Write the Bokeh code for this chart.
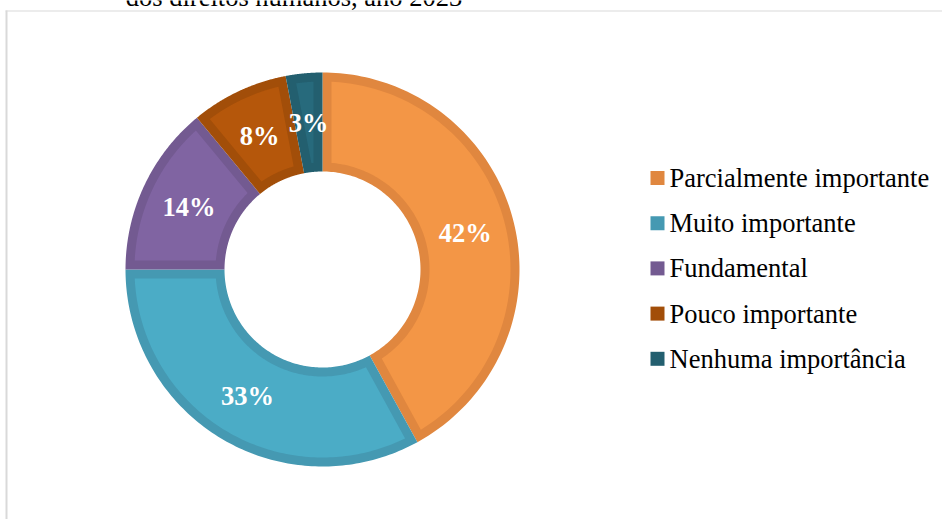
import numpy as np
from bokeh.plotting import figure
from bokeh.models import Range1d
from bokeh.core.properties import value
from bokeh.embed import file_html
from bokeh.resources import INLINE

# ---- data ----
categories = ["Parcialmente importante", "Muito importante", "Fundamental",
              "Pouco importante", "Nenhuma importância"]
values = [42, 33, 14, 8, 3]
labels = ["42%", "33%", "14%", "8%", "3%"]
fill_colors = ["#F39646", "#4BACC6", "#8064A2", "#B5570B", "#276A7C"]
edge_colors = ["#E0873F", "#4599B2", "#735A91", "#A24E09", "#235F6F"]
title_text = "dos direitos humanos, ano 2023"

# ---- layout (pixels) ----
W, H = 942, 519
cx, cy = 322, 269
r_out, r_in = 197, 98
edge = 9
FONT = "Liberation Serif"
FS = "26.5px"

p = figure(width=W, height=H, x_range=Range1d(0, W), y_range=Range1d(H, 0),
           output_backend="svg", toolbar_location=None, min_border=0,
           x_axis_location=None, y_axis_location=None)
p.grid.visible = False
p.outline_line_color = None
p.background_fill_color = "white"
p.border_fill_color = "white"
p.styles = {"position": "absolute", "top": "0px", "left": "0px"}


def sector(t1, t2, r1, r2, inset=0.0, n=120):
    """t1 > t2 (degrees), clockwise from t1 to t2."""
    ra, rb = r1 + inset, r2 - inset
    a_out = np.degrees(np.arcsin(inset / rb)) if inset else 0.0
    a_in = np.degrees(np.arcsin(inset / ra)) if inset else 0.0
    to = np.radians(np.linspace(t1 - a_out, t2 + a_out, n))
    ti = np.radians(np.linspace(t2 + a_in, t1 - a_in, n))
    xs = np.concatenate([cx + rb * np.cos(to), cx + ra * np.cos(ti)])
    ys = np.concatenate([cy - rb * np.sin(to), cy - ra * np.sin(ti)])
    return list(xs), list(ys)


total = float(sum(values))
starts, ends = [], []
a = 90.0
for v in values:
    starts.append(a)
    a = a - v / total * 360.0
    ends.append(a)

oxs, oys, ixs, iys = [], [], [], []
for t1, t2 in zip(starts, ends):
    x, y = sector(t1, t2, r_in, r_out)
    oxs.append(x); oys.append(y)
    x, y = sector(t1, t2, r_in, r_out, inset=edge)
    ixs.append(x); iys.append(y)

p.patches(oxs, oys, fill_color=edge_colors, line_color=None)
p.patches(ixs, iys, fill_color=fill_colors, line_color=None)

# labels
mids = np.radians([(s + e) / 2 for s, e in zip(starts, ends)])
rm = (r_in + r_out) / 2
lx = cx + rm * np.cos(mids)
ly = cy - rm * np.sin(mids)
p.text(x=list(lx), y=list(ly), text=labels, text_color="white",
       text_font=value(FONT), text_font_style="bold", text_font_size=FS,
       text_align="center", text_baseline="middle")

# legend
leg_y = [177.5 + i * 45.2 for i in range(len(categories))]
p.scatter(x=[657] * len(categories), y=leg_y, marker="square", size=14,
          fill_color=edge_colors, line_color=None)
p.text(x=[669] * len(categories), y=leg_y, text=categories, text_color="black",
       text_font=value(FONT), text_font_size=FS,
       text_align="left", text_baseline="middle")

# frame and clipped title (cut off at the top edge, as in the reference)
p.line(x=[6, 6], y=[H, 10], line_color="#D9D9D9", line_width=2)
p.line(x=[5, W], y=[10.5, 10.5], line_color="#D9D9D9", line_width=1)
p.text(x=[293.5], y=[-4], text=[title_text], text_color="black",
       text_font=value(FONT), text_font_size=FS,
       text_align="center", text_baseline="alphabetic")

open("out.html", "w").write(file_html(p, INLINE))
